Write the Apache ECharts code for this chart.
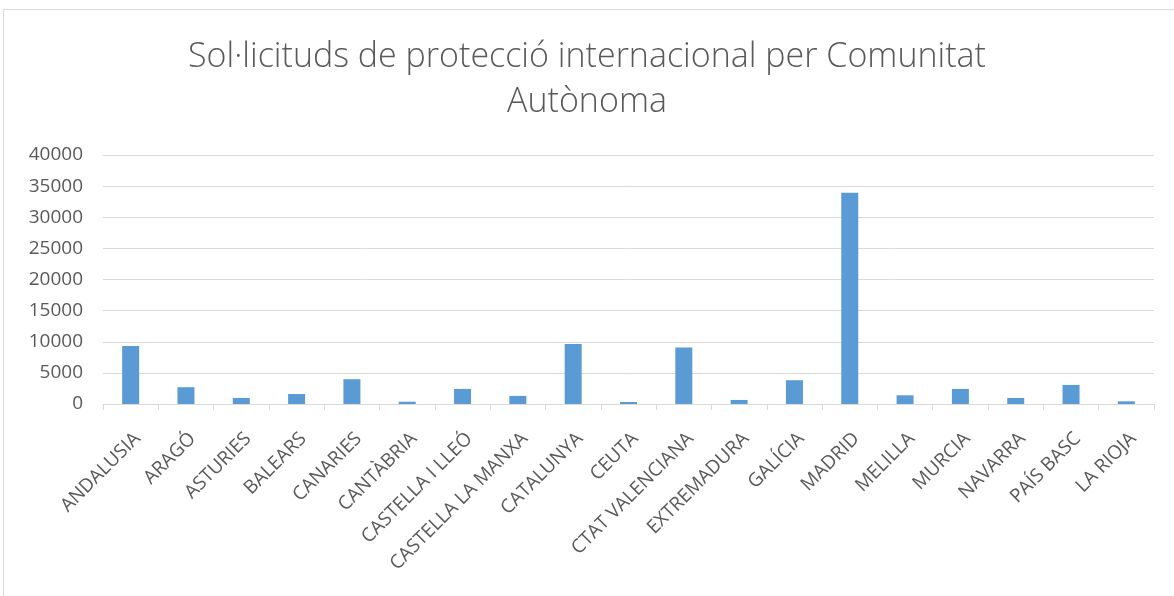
<!DOCTYPE html>
<html>
<head>
<meta charset="utf-8">
<script src="https://cdn.jsdelivr.net/npm/echarts@6/dist/echarts.min.js"></script>
<style>
    html, body { margin: 0; padding: 0; background: #fff; }
    #frame { position: absolute; left: 3px; top: 9px; width: 1180px; height: 600px; border: 1px solid #d9d9d9; box-sizing: border-box; }
    #main { position: absolute; left: 0; top: 0; width: 1174px; height: 596px; }
</style>
</head>
<body>
<div id="frame"></div>
<div id="main"></div>
<script>
// comunitats autonomes
var categories = ['ANDALUSIA', 'ARAGÓ', 'ASTURIES', 'BALEARS', 'CANARIES', 'CANTÀBRIA', 'CASTELLA I LLEÓ',
    'CASTELLA LA MANXA', 'CATALUNYA', 'CEUTA', 'CTAT VALENCIANA', 'EXTREMADURA', 'GALÍCIA', 'MADRID',
    'MELILLA', 'MURCIA', 'NAVARRA', 'PAÍS BASC', 'LA RIOJA'];
// sol·licituds
var values = [9300, 2700, 970, 1600, 3980, 370, 2420, 1300, 9630, 320, 9080, 650, 3820, 33930, 1400, 2420, 970, 3060, 430];
var yMin = 0, yMax = 40000, yStep = 5000;

var myChart = echarts.init(document.getElementById('main'));
var option = {
    animation: false,
    title: {
        text: 'Sol·licituds de protecció internacional per Comunitat\nAutònoma',
        left: 'center',
        top: 30,
        textStyle: {
            fontFamily: 'Open Sans',
            fontWeight: 300,
            fontSize: 34,
            color: '#595959',
            lineHeight: 45
        }
    },
    grid: {
        left: 103,
        right: 20,
        top: 155,
        bottom: 192,
        containLabel: false
    },
    xAxis: {
        type: 'category',
        data: categories,
        axisLine: { lineStyle: { color: '#d9d9d9', width: 1 } },
        axisTick: { show: true, length: 6, lineStyle: { color: '#d9d9d9' } },
        axisLabel: {
            interval: 0,
            rotate: 45,
            margin: 25,
            verticalAlign: 'top',
            fontFamily: 'Open Sans',
            fontSize: 19,
            color: '#595959'
        }
    },
    yAxis: {
        type: 'value',
        min: yMin,
        max: yMax,
        interval: yStep,
        axisLine: { show: false },
        axisTick: { show: false },
        splitLine: { lineStyle: { color: '#d9d9d9', width: 1 } },
        axisLabel: {
            margin: 20,
            fontFamily: 'Open Sans',
            fontSize: 19,
            color: '#595959',
            formatter: function (v) { return String(v); }
        }
    },
    series: [{
        type: 'bar',
        data: values,
        barWidth: 17,
        itemStyle: { color: '#5b9bd5' }
    }]
};
myChart.setOption(option);
</script>
</body>
</html>
